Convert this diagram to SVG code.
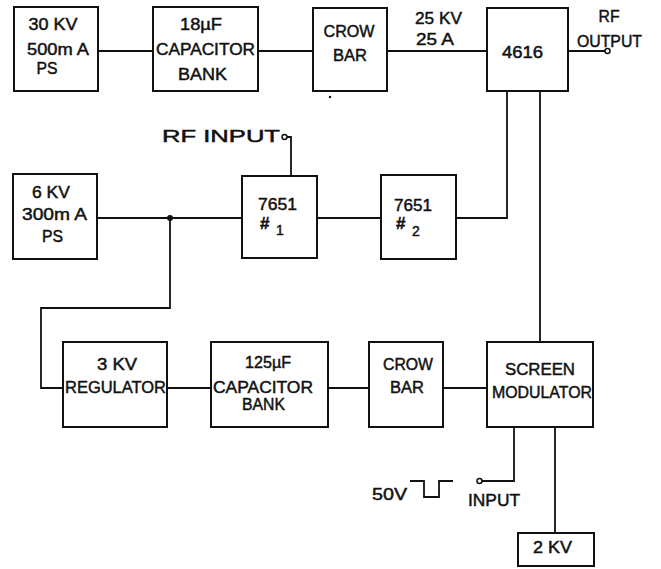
<svg xmlns="http://www.w3.org/2000/svg" width="661" height="569" viewBox="0 0 661 569">
<style>
.box{fill:#fff;stroke:#111;stroke-width:2}
.w{fill:none;stroke:#111;stroke-width:1.8}
text{font-family:"Liberation Sans",Arial,sans-serif;font-size:16px;fill:#111;stroke:#111;stroke-width:0.45}
.hash{font-size:17px;font-weight:bold}
.sub{font-size:14px;font-weight:normal}
</style>
<rect width="661" height="569" fill="#fff"/>
<g id="connectors">
<path class="w" d="M98 51H153M258 51H313M387 51H487M568 51H605"/>
<circle cx="607.5" cy="51" r="2.5" fill="#fff" stroke="#111" stroke-width="1.5"/>
<path class="w" d="M507 91V218H456M540 91V342"/>
<path class="w" d="M97 218H242M317 218H381"/>
<circle cx="170" cy="218" r="3" fill="#111"/>
<path class="w" d="M170 218V308H41V388H63"/>
<path class="w" d="M287 137H291V176"/>
<circle cx="284.5" cy="137" r="2.5" fill="#fff" stroke="#111" stroke-width="1.5"/>
<path class="w" d="M167 388H211M328 388H369M443 388H487"/>
<path class="w" d="M514 426V481H482M555 426V533"/>
<circle cx="479.5" cy="481" r="2.5" fill="#fff" stroke="#111" stroke-width="1.5"/>
<path class="w" d="M410 481H424V497H439V481H453"/>
<circle cx="330" cy="97" r="1.2" fill="#111"/>
</g>
<g id="ps30">
<rect class="box" x="14" y="7" width="84" height="84"/>
<text x="53" y="30" text-anchor="middle" textLength="49" lengthAdjust="spacingAndGlyphs">30 KV</text>
<text x="58" y="55" text-anchor="middle" textLength="62" lengthAdjust="spacingAndGlyphs">500m A</text>
<text x="47" y="74" text-anchor="middle" textLength="21" lengthAdjust="spacingAndGlyphs">PS</text>
</g>
<g id="cap18">
<rect class="box" x="153" y="7" width="105" height="84"/>
<text x="201" y="30" text-anchor="middle" textLength="42" lengthAdjust="spacingAndGlyphs">18µF</text>
<text x="205.5" y="55" text-anchor="middle" textLength="99" lengthAdjust="spacingAndGlyphs">CAPACITOR</text>
<text x="202.5" y="80" text-anchor="middle" textLength="49" lengthAdjust="spacingAndGlyphs">BANK</text>
</g>
<g id="crowbar1">
<rect class="box" x="313" y="8" width="74" height="83"/>
<text x="349" y="37" text-anchor="middle" textLength="51" lengthAdjust="spacingAndGlyphs">CROW</text>
<text x="350" y="61" text-anchor="middle" textLength="34" lengthAdjust="spacingAndGlyphs">BAR</text>
</g>
<g id="label25">
<text x="415" y="24" textLength="47" lengthAdjust="spacingAndGlyphs">25 KV</text>
<text x="416" y="45" textLength="38" lengthAdjust="spacingAndGlyphs">25 A</text>
</g>
<g id="tube4616">
<rect class="box" x="487" y="8" width="81" height="83"/>
<text x="522.5" y="58" text-anchor="middle" textLength="41" lengthAdjust="spacingAndGlyphs">4616</text>
</g>
<g id="rfout">
<text x="609" y="22" text-anchor="middle" textLength="21" lengthAdjust="spacingAndGlyphs">RF</text>
<text x="609.5" y="47" text-anchor="middle" textLength="65" lengthAdjust="spacingAndGlyphs">OUTPUT</text>
</g>
<g id="rfin">
<text x="162" y="142" textLength="118" lengthAdjust="spacingAndGlyphs">RF INPUT</text>
</g>
<g id="ps6">
<rect class="box" x="13" y="174" width="84" height="85"/>
<text x="51" y="198" text-anchor="middle" textLength="38" lengthAdjust="spacingAndGlyphs">6 KV</text>
<text x="54.5" y="220" text-anchor="middle" textLength="65" lengthAdjust="spacingAndGlyphs">300m A</text>
<text x="52.5" y="242" text-anchor="middle" textLength="21" lengthAdjust="spacingAndGlyphs">PS</text>
</g>
<g id="t7651a">
<rect class="box" x="242" y="176" width="75" height="82"/>
<text x="277.5" y="210" text-anchor="middle" textLength="39" lengthAdjust="spacingAndGlyphs">7651</text>
<text class="hash" x="260" y="229">#<tspan class="sub" x="276" y="235">1</tspan></text>
</g>
<g id="t7651b">
<rect class="box" x="381" y="175" width="75" height="84"/>
<text x="413" y="211" text-anchor="middle" textLength="38" lengthAdjust="spacingAndGlyphs">7651</text>
<text class="hash" x="396" y="229">#<tspan class="sub" x="412" y="236">2</tspan></text>
</g>
<g id="reg3">
<rect class="box" x="63" y="342" width="104" height="85"/>
<text x="117" y="370" text-anchor="middle" textLength="40" lengthAdjust="spacingAndGlyphs">3 KV</text>
<text x="115.5" y="393" text-anchor="middle" textLength="101" lengthAdjust="spacingAndGlyphs">REGULATOR</text>
</g>
<g id="cap125">
<rect class="box" x="211" y="342" width="117" height="85"/>
<text x="268" y="368" text-anchor="middle" textLength="46" lengthAdjust="spacingAndGlyphs">125µF</text>
<text x="263" y="393" text-anchor="middle" textLength="100" lengthAdjust="spacingAndGlyphs">CAPACITOR</text>
<text x="263.5" y="410" text-anchor="middle" textLength="43" lengthAdjust="spacingAndGlyphs">BANK</text>
</g>
<g id="crowbar2">
<rect class="box" x="369" y="342" width="74" height="85"/>
<text x="408" y="370" text-anchor="middle" textLength="50" lengthAdjust="spacingAndGlyphs">CROW</text>
<text x="407" y="393" text-anchor="middle" textLength="34" lengthAdjust="spacingAndGlyphs">BAR</text>
</g>
<g id="screenmod">
<rect class="box" x="487" y="342" width="106" height="85"/>
<text x="540" y="375" text-anchor="middle" textLength="70" lengthAdjust="spacingAndGlyphs">SCREEN</text>
<text x="542" y="398" text-anchor="middle" textLength="100" lengthAdjust="spacingAndGlyphs">MODULATOR</text>
</g>
<g id="pulse">
<text x="372" y="500" textLength="35" lengthAdjust="spacingAndGlyphs">50V</text>
<text x="468" y="506" textLength="52" lengthAdjust="spacingAndGlyphs">INPUT</text>
</g>
<g id="kv2">
<rect class="box" x="518" y="533" width="76" height="33"/>
<text x="552.5" y="553" text-anchor="middle" textLength="39" lengthAdjust="spacingAndGlyphs">2 KV</text>
</g>
</svg>
